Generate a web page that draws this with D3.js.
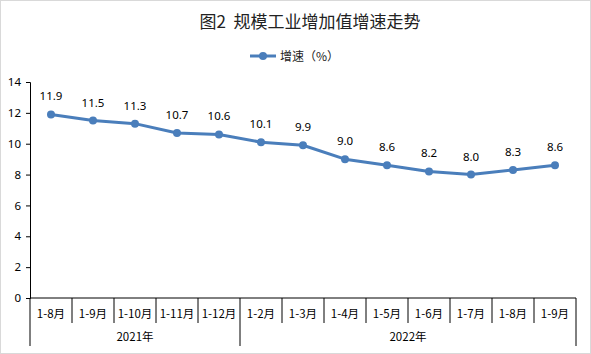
<!DOCTYPE html>
<html>
<head>
<meta charset="utf-8">
<script src="https://cdn.jsdelivr.net/npm/d3@7"></script>
<style>
  body { margin: 0; background: #fff; }
  text { font-family: "Noto Sans CJK SC", "Noto Sans", sans-serif; }
</style>
</head>
<body>
<div id="chart"></div>
<script>
// data
const months = ['1-8月', '1-9月', '1-10月', '1-11月', '1-12月', '1-2月', '1-3月', '1-4月', '1-5月', '1-6月', '1-7月', '1-8月', '1-9月'];
const years = ['2021年', '2021年', '2021年', '2021年', '2021年', '2022年', '2022年', '2022年', '2022年', '2022年', '2022年', '2022年', '2022年'];
const growth = [11.9, 11.5, 11.3, 10.7, 10.6, 10.1, 9.9, 9.0, 8.6, 8.2, 8.0, 8.3, 8.6];
const yTicks = [0, 2, 4, 6, 8, 10, 12, 14];

const W = 591, H = 354;
const blue = '#4a7ebb';

const svg = d3.select('#chart').append('svg')
  .attr('width', W)
  .attr('height', H);

svg.append('rect')
  .attr('x', 0.5).attr('y', 0.5)
  .attr('width', W - 1).attr('height', H - 1)
  .attr('fill', '#fff')
  .attr('stroke', '#d9d9d9');

const idx = months.map((m, i) => i);
const x = d3.scaleBand()
  .domain(idx)
  .range([30, 576]);
const y = d3.scaleLinear()
  .domain([0, 14])
  .range([298, 82]);

// title
svg.append('text')
  .attr('x', 310).attr('y', 28)
  .attr('text-anchor', 'middle')
  .attr('font-size', 17)
  .attr('fill', '#222')
  .text('图2\u00a0\u00a0规模工业增加值增速走势');

// legend
const lg = svg.append('g').attr('transform', 'translate(250,56)');
lg.append('line').attr('x1', 0).attr('x2', 26).attr('y1', 0).attr('y2', 0)
  .attr('stroke', blue).attr('stroke-width', 3);
lg.append('circle').attr('cx', 13).attr('cy', 0).attr('r', 4).attr('fill', blue);
lg.append('text').attr('x', 30).attr('y', 4.5)
  .attr('font-size', 12).attr('fill', '#222')
  .text('增速（%）');

// y axis
const yAxis = svg.append('g')
  .attr('transform', 'translate(30,0)')
  .call(d3.axisLeft(y).tickValues(yTicks).tickSize(4).tickPadding(5));
yAxis.select('.domain').attr('stroke', '#000');
yAxis.selectAll('.tick line').attr('stroke', '#000');
yAxis.selectAll('.tick text').attr('font-size', 11.5).attr('fill', '#000')
  .style('font-family', '"Noto Sans", sans-serif');

// x axis baseline
svg.append('line')
  .attr('x1', 30).attr('x2', 576)
  .attr('y1', y(0)).attr('y2', y(0))
  .attr('stroke', '#000');

// category separators
const bounds = idx.map(i => x(i)).concat([x.range()[1]]);
svg.append('g').selectAll('line')
  .data(bounds)
  .join('line')
  .attr('x1', d => d).attr('x2', d => d)
  .attr('y1', y(0))
  .attr('y2', (d, i) => (i === 0 || i === bounds.length - 1 || years[i] !== years[i - 1]) ? 346 : 323)
  .attr('stroke', '#000');

// category labels
svg.append('g').selectAll('text')
  .data(months)
  .join('text')
  .attr('x', (d, i) => x(i) + x.bandwidth() / 2)
  .attr('y', 318)
  .attr('text-anchor', 'middle')
  .attr('font-size', 11.5)
  .attr('fill', '#000')
  .text(d => d);

// year group labels
const groups = d3.groups(idx, i => years[i]);
svg.append('g').selectAll('text')
  .data(groups)
  .join('text')
  .attr('x', g => (x(g[1][0]) + x(g[1][g[1].length - 1]) + x.bandwidth()) / 2)
  .attr('y', 341)
  .attr('text-anchor', 'middle')
  .attr('font-size', 11.5)
  .attr('fill', '#000')
  .text(g => g[0]);

// line
const line = d3.line()
  .x((d, i) => x(i) + x.bandwidth() / 2)
  .y(d => y(d));
svg.append('path')
  .datum(growth)
  .attr('d', line)
  .attr('fill', 'none')
  .attr('stroke', blue)
  .attr('stroke-width', 3)
  .attr('stroke-linejoin', 'round');

svg.append('g').selectAll('circle')
  .data(growth)
  .join('circle')
  .attr('cx', (d, i) => x(i) + x.bandwidth() / 2)
  .attr('cy', d => y(d))
  .attr('r', 4)
  .attr('fill', blue);

// data labels
svg.append('g').selectAll('text')
  .data(growth)
  .join('text')
  .attr('x', (d, i) => x(i) + x.bandwidth() / 2)
  .attr('y', d => y(d) - 14)
  .attr('text-anchor', 'middle')
  .attr('font-size', 11.5)
  .attr('fill', '#000')
  .style('font-family', '"Noto Sans", sans-serif')
  .text(d => d.toFixed(1));
</script>
</body>
</html>
